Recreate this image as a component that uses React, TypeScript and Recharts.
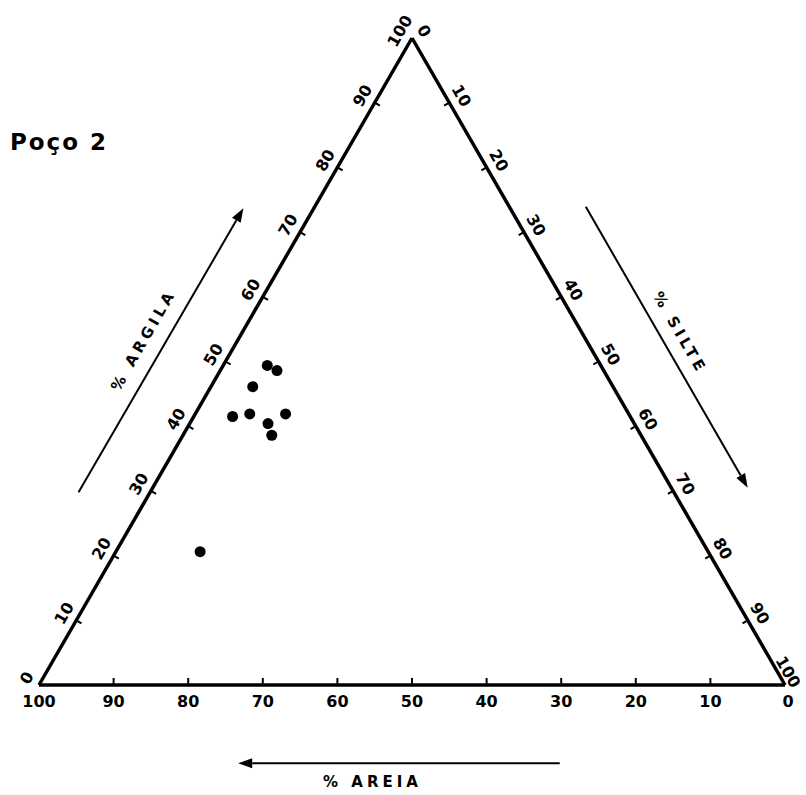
import React from "react";
import {
  ScatterChart,
  Scatter,
  XAxis,
  YAxis,
  ReferenceLine,
  ReferenceDot,
} from "recharts";

// sample composition (%)
const AREIA = [44.7, 43.8, 48.3, 53.3, 50.8, 46.0, 49.1, 49.5, 68.1];
const ARGILA = [49.4, 48.6, 46.1, 41.5, 41.9, 41.9, 40.4, 38.6, 20.6];
const SILTE = [5.9, 7.6, 5.6, 5.2, 7.3, 12.1, 10.5, 11.9, 11.3];

// tick labels along the three sides
const ARGILA_TICKS = [0, 10, 20, 30, 40, 50, 60, 70, 80, 90, 100];
const SILTE_TICKS = [0, 10, 20, 30, 40, 50, 60, 70, 80, 90, 100];
const AREIA_TICKS = [100, 90, 80, 70, 60, 50, 40, 30, 20, 10, 0];

const FONT = "'DejaVu Sans', 'Liberation Sans', sans-serif";
const C = 0.866;

// ternary -> cartesian (x: 0..100 across the base, y: % argila)
const samples = AREIA.map((_, i) => ({
  x: SILTE[i] + ARGILA[i] / 2,
  y: ARGILA[i],
}));
const leftTicks = ARGILA_TICKS.map((v) => ({ x: v / 2, y: v, label: String(v) }));
const rightTicks = SILTE_TICKS.map((v) => ({ x: 50 + v / 2, y: 100 - v, label: String(v) }));
const bottomTicks = AREIA_TICKS.map((v) => ({ x: 100 - v, y: 0, label: String(v) }));

const tickText = (x: number, y: number, label: string, rot: number) => (
  <text
    x={x}
    y={y}
    transform={`rotate(${rot} ${x} ${y})`}
    textAnchor="middle"
    dominantBaseline="central"
    fontFamily={FONT}
    fontWeight="bold"
    fontSize={16}
    fill="#000"
  >
    {label}
  </text>
);

const LeftTick = (p: any) => {
  const { cx, cy, payload } = p;
  const edge = payload.y > 0 && payload.y < 100;
  return (
    <g>
      {edge && <line x1={cx} y1={cy} x2={cx + C * 6} y2={cy + 0.5 * 6} stroke="#000" strokeWidth={2} />}
      {tickText(cx - C * 14, cy - 0.5 * 14, payload.label, -60)}
    </g>
  );
};

const RightTick = (p: any) => {
  const { cx, cy, payload } = p;
  const edge = payload.y > 0 && payload.y < 100;
  const corner = payload.y === 0;
  return (
    <g>
      {edge && <line x1={cx} y1={cy} x2={cx - C * 6} y2={cy + 0.5 * 6} stroke="#000" strokeWidth={2} />}
      {corner
        ? tickText(cx + 3, cy - 13, payload.label, 60)
        : tickText(cx + C * 14, cy - 0.5 * 14, payload.label, 60)}
    </g>
  );
};

const BottomTick = (p: any) => {
  const { cx, cy, payload } = p;
  const edge = payload.x > 0 && payload.x < 100;
  return (
    <g>
      {edge && <line x1={cx} y1={cy} x2={cx} y2={cy - 7} stroke="#000" strokeWidth={2} />}
      {tickText(cx + (payload.x === 100 ? 3 : 0), cy + 16, payload.label, 0)}
    </g>
  );
};

const Arrow = (p: any) => {
  const { x1, y1, x2, y2 } = p;
  const dx = x2 - x1;
  const dy = y2 - y1;
  const len = Math.sqrt(dx * dx + dy * dy);
  const ux = dx / len;
  const uy = dy / len;
  const bx = x2 - ux * 14;
  const by = y2 - uy * 14;
  return (
    <g>
      <line x1={x1} y1={y1} x2={bx} y2={by} stroke="#000" strokeWidth={2} />
      <polygon
        points={`${x2},${y2} ${bx - uy * 5},${by + ux * 5} ${bx + uy * 5},${by - ux * 5}`}
        fill="#000"
      />
    </g>
  );
};

const textShape = (label: string, rot: number, size: number, spacing: number, anchor = "middle") =>
  (p: any) => (
    <text
      x={p.cx}
      y={p.cy}
      transform={`rotate(${rot} ${p.cx} ${p.cy})`}
      textAnchor={anchor}
      dominantBaseline="central"
      fontFamily={FONT}
      fontWeight="bold"
      fontSize={size}
      letterSpacing={spacing}
      fill="#000"
    >
      {label}
    </text>
  );

export default function App() {
  return (
    <div style={{ position: "absolute", left: 0, top: 0, width: 806, height: 795, background: "#fff" }}>
      <ScatterChart width={806} height={795} margin={{ top: 38, right: 21, bottom: 110, left: 39 }}>
        <XAxis type="number" dataKey="x" domain={[0, 100]} hide />
        <YAxis type="number" dataKey="y" domain={[0, 100]} hide />

        {/* triangle */}
        <ReferenceLine segment={[{ x: 0, y: 0 }, { x: 100, y: 0 }]} stroke="#000" strokeWidth={3.5} ifOverflow="visible" />
        <ReferenceLine segment={[{ x: 0, y: 0 }, { x: 50, y: 100 }]} stroke="#000" strokeWidth={3.5} ifOverflow="visible" />
        <ReferenceLine segment={[{ x: 50, y: 100 }, { x: 100, y: 0 }]} stroke="#000" strokeWidth={3.5} ifOverflow="visible" />

        {/* direction arrows */}
        <ReferenceLine segment={[{ x: 5.3, y: 29.8 }, { x: 27.4, y: 73.7 }]} ifOverflow="visible" shape={Arrow} />
        <ReferenceLine segment={[{ x: 73.3, y: 73.9 }, { x: 95.0, y: 30.5 }]} ifOverflow="visible" shape={Arrow} />
        <ReferenceLine segment={[{ x: 69.8, y: -12.1 }, { x: 26.7, y: -12.1 }]} ifOverflow="visible" shape={Arrow} />

        {/* titles */}
        <ReferenceDot x={-3.9} y={84.0} r={1} ifOverflow="visible" shape={textShape("Poço 2", 0, 23, 2, "start")} />
        <ReferenceDot x={14.0} y={53.3} r={1} ifOverflow="visible" shape={textShape("% ARGILA", -60, 15, 4)} />
        <ReferenceDot x={85.9} y={54.4} r={1} ifOverflow="visible" shape={textShape("% SILTE", 60, 15, 4)} />
        <ReferenceDot x={44.7} y={-15.0} r={1} ifOverflow="visible" shape={textShape("% AREIA", 0, 15, 4)} />

        <Scatter data={leftTicks} shape={LeftTick} isAnimationActive={false} />
        <Scatter data={rightTicks} shape={RightTick} isAnimationActive={false} />
        <Scatter data={bottomTicks} shape={BottomTick} isAnimationActive={false} />

        <Scatter
          data={samples}
          isAnimationActive={false}
          shape={(p: any) => <circle cx={p.cx} cy={p.cy} r={5.5} fill="#000" />}
        />
      </ScatterChart>
    </div>
  );
}
